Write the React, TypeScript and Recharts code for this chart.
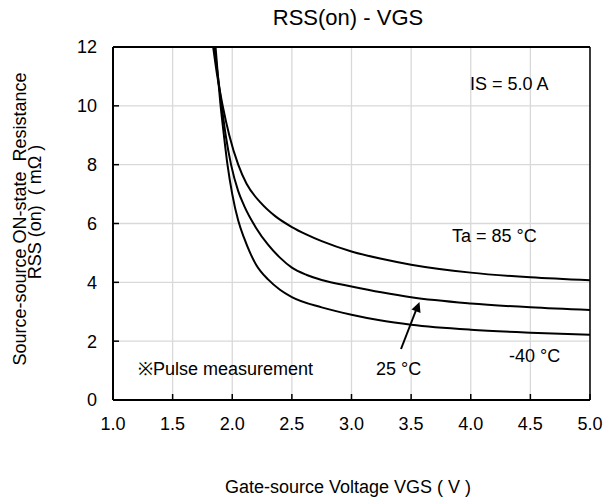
import { LineChart, Line, XAxis, YAxis, CartesianGrid, ReferenceLine, Customized } from 'recharts'

const FONT = '"Liberation Sans", Arial, sans-serif'

// x ticks (Gate-source voltage, V) and y ticks (RSS(on), mOhm)
const xTicks = [1.0, 1.5, 2.0, 2.5, 3.0, 3.5, 4.0, 4.5, 5.0]
const yTicks = [0, 2, 4, 6, 8, 10, 12]

// Ta = -40 °C
const vgsM40 = [1.86, 1.88, 1.9, 1.93, 1.96, 2.0, 2.05, 2.1, 2.15, 2.2, 2.3, 2.4, 2.5, 2.75, 3.0, 3.25, 3.5, 4.0, 4.5, 5.0]
const rssM40 = [12, 11, 10.1, 9.0, 8.0, 7.0, 6.1, 5.5, 5.0, 4.6, 4.1, 3.75, 3.5, 3.15, 2.9, 2.7, 2.56, 2.39, 2.29, 2.22]

// Ta = 25 °C
const vgs25 = [1.85, 1.88, 1.91, 1.945, 1.99, 2.05, 2.1, 2.2, 2.3, 2.4, 2.5, 2.625, 2.75, 3.0, 3.25, 3.5, 4.0, 4.5, 5.0]
const rss25 = [12, 11, 10.05, 9.0, 8.0, 7.1, 6.6, 5.85, 5.28, 4.84, 4.5, 4.25, 4.08, 3.86, 3.66, 3.49, 3.28, 3.15, 3.06]

// Ta = 85 °C
const vgs85 = [1.84, 1.875, 1.92, 1.975, 2.05, 2.12, 2.24, 2.36, 2.5, 2.62, 2.75, 3.0, 3.25, 3.5, 4.0, 4.5, 5.0]
const rss85 = [12, 11, 10, 9, 8, 7.35, 6.7, 6.25, 5.88, 5.63, 5.4, 5.05, 4.8, 4.6, 4.33, 4.17, 4.07]

const toPoints = (xs: number[], ys: number[]) => xs.map((v, i) => ({ v, r: ys[i] }))

const curves = [
  { key: 'm40', data: toPoints(vgsM40, rssM40) },
  { key: 't25', data: toPoints(vgs25, rss25) },
  { key: 't85', data: toPoints(vgs85, rss85) },
]

const Annotations = () => (
  <g fontFamily={FONT} fill="#000">
    <text x={348} y={25} fontSize={22} textAnchor="middle">RSS(on) - VGS</text>
    <text x={348} y={493} fontSize={18} textAnchor="middle">Gate-source Voltage VGS ( V )</text>
    <text transform="translate(25.5,219) rotate(-90)" fontSize={18} textAnchor="middle">
      {'Source-source ON-state\u00a0 Resistance'}
    </text>
    <text transform="translate(40.5,212) rotate(-90)" fontSize={18} textAnchor="middle">
      {'RSS (on)\u00a0 ( mΩ )'}
    </text>
    <text x={470} y={90} fontSize={18}>IS = 5.0 A</text>
    <text x={452} y={242} fontSize={18}>Ta = 85 °C</text>
    <text x={509} y={362} fontSize={18}>-40 °C</text>
    <text x={376} y={375} fontSize={18}>25 °C</text>
    <text x={138} y={375} fontSize={18}>※Pulse measurement</text>
    <line x1={401} y1={349} x2={416.5} y2={309} stroke="#000" strokeWidth={2} />
    <polygon points="419.5,302 420.5,313 411.5,309.5" fill="#000" />
  </g>
)

export default function App() {
  return (
    <div style={{ position: 'absolute', left: 0, top: 0, width: 609, height: 502, background: '#fff' }}>
      <LineChart width={609} height={502} margin={{ top: 47, right: 19, bottom: 0, left: 0 }}
        style={{ fontFamily: FONT }}>
        <CartesianGrid stroke="#d9d9d9" strokeWidth={1.3} />
        <XAxis dataKey="v" type="number" domain={[1, 5]} ticks={xTicks} height={102}
          tickFormatter={(t: number) => t.toFixed(1)} allowDataOverflow
          tick={{ fill: '#000', fontSize: 18 }} tickSize={-6} tickMargin={23}
          axisLine={{ stroke: '#000', strokeWidth: 2 }} tickLine={{ stroke: '#000', strokeWidth: 1.5 }} />
        <YAxis type="number" domain={[0, 12]} ticks={yTicks} width={113} allowDataOverflow
          tick={{ fill: '#000', fontSize: 18 }} tickSize={-6} tickMargin={22}
          axisLine={{ stroke: '#000', strokeWidth: 2 }} tickLine={{ stroke: '#000', strokeWidth: 1.5 }} />
        <ReferenceLine y={12} stroke="#000" strokeWidth={2} />
        <ReferenceLine x={5} stroke="#000" strokeWidth={1.5} />
        {curves.map((c) => (
          <Line key={c.key} data={c.data} dataKey="r" type="monotone" stroke="#000"
            strokeWidth={2} dot={false} isAnimationActive={false} />
        ))}
        <Customized component={Annotations} />
      </LineChart>
    </div>
  )
}
